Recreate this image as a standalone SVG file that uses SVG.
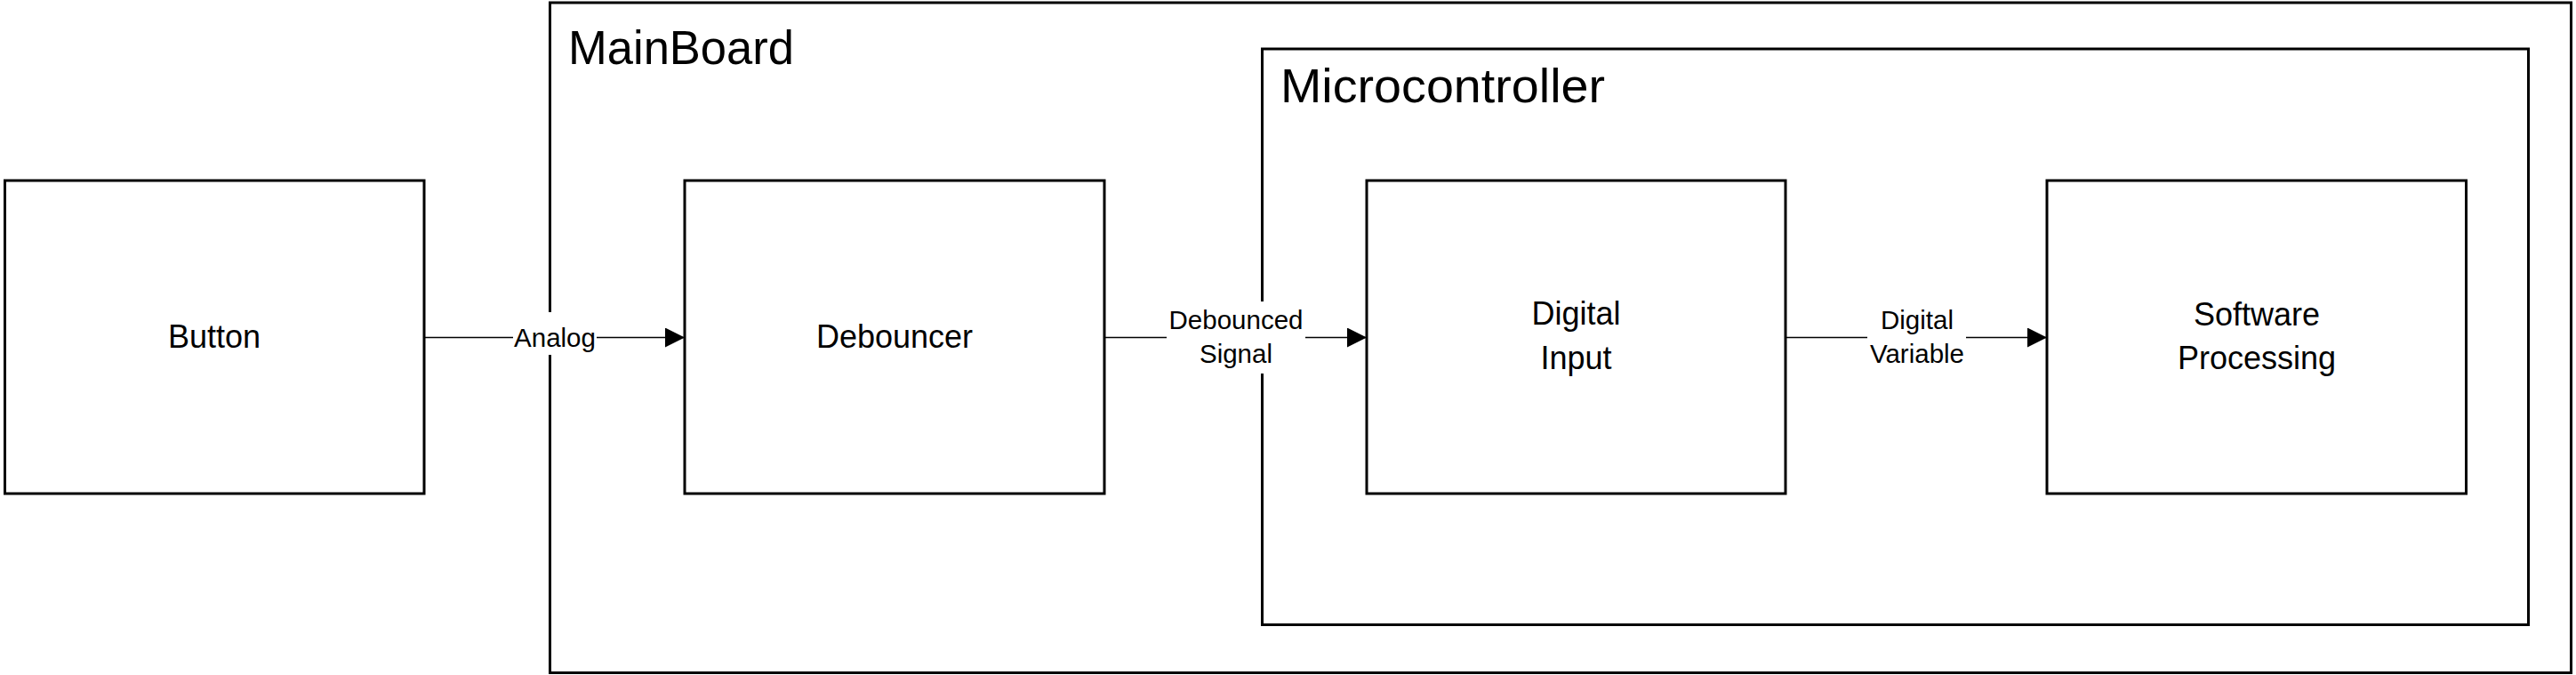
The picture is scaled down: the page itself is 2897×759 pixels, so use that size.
<svg xmlns="http://www.w3.org/2000/svg" width="2897" height="759" viewBox="0 0 2897 759">
  <style>
    .box { fill: #ffffff; stroke: #000000; stroke-width: 3; }
    .container { fill: none; stroke: #000000; stroke-width: 3; }
    .title { font-family: "Liberation Sans", Arial, sans-serif; font-size: 53px; fill: #000000; }
    .label { font-family: "Liberation Sans", Arial, sans-serif; font-size: 36px; fill: #000000; text-anchor: middle; }
    .elabel { font-family: "Liberation Sans", Arial, sans-serif; font-size: 29.5px; fill: #000000; text-anchor: middle; }
    .conn { fill: none; stroke: #000000; stroke-width: 1.3; }
    .lblbg { fill: #ffffff; stroke: none; }
  </style>
  <defs>
    <marker id="arrow" markerUnits="userSpaceOnUse" markerWidth="22" markerHeight="22" refX="22" refY="11" orient="auto">
      <path d="M0,0 L22,11 L0,22 Z" fill="#000000"/>
    </marker>
  </defs>
  <rect width="2897" height="759" fill="#ffffff"/>

  <g id="mainboard">
    <rect class="container" x="618.5" y="3" width="2273" height="753.5"/>
    <text class="title" x="639" y="72" textLength="254" lengthAdjust="spacingAndGlyphs">MainBoard</text>
  </g>

  <g id="microcontroller">
    <rect class="container" x="1419.5" y="55" width="1424" height="647.5"/>
    <text class="title" x="1440" y="115" textLength="365" lengthAdjust="spacingAndGlyphs">Microcontroller</text>
  </g>

  <g id="button">
    <rect class="box" x="5.5" y="203" width="471.5" height="352"/>
    <text class="label" x="241" y="391">Button</text>
  </g>

  <g id="debouncer">
    <rect class="box" x="770" y="203" width="472" height="352"/>
    <text class="label" x="1006" y="391">Debouncer</text>
  </g>

  <g id="digital-input">
    <rect class="box" x="1537" y="203" width="471" height="352"/>
    <text class="label" x="1772.5" y="365">Digital</text>
    <text class="label" x="1772.5" y="415">Input</text>
  </g>

  <g id="software-processing">
    <rect class="box" x="2302" y="203" width="471.5" height="352"/>
    <text class="label" x="2538" y="366">Software</text>
    <text class="label" x="2538" y="415">Processing</text>
  </g>

  <g id="connectors">
    <g id="edge-analog">
      <line class="conn" x1="477" y1="379.5" x2="770" y2="379.5" marker-end="url(#arrow)"/>
      <rect class="lblbg" x="577" y="351" width="94" height="48"/>
      <text class="elabel" x="624" y="390">Analog</text>
    </g>
    <g id="edge-debounced">
      <line class="conn" x1="1242" y1="379.5" x2="1537" y2="379.5" marker-end="url(#arrow)"/>
      <rect class="lblbg" x="1312" y="339" width="156" height="81"/>
      <text class="elabel" x="1390" y="370">Debounced</text>
      <text class="elabel" x="1390" y="408">Signal</text>
    </g>
    <g id="edge-digital-variable">
      <line class="conn" x1="2008" y1="379.5" x2="2302" y2="379.5" marker-end="url(#arrow)"/>
      <rect class="lblbg" x="2100" y="339" width="111" height="81"/>
      <text class="elabel" x="2156" y="370">Digital</text>
      <text class="elabel" x="2156" y="408">Variable</text>
    </g>
  </g>
</svg>
